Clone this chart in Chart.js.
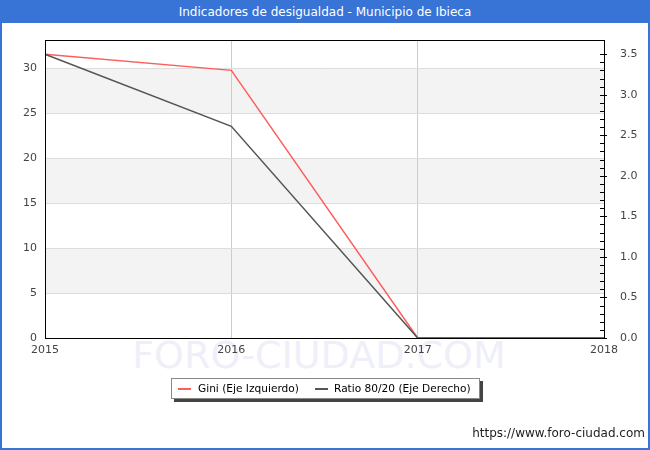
<!DOCTYPE html>
<html>
<head>
<meta charset="utf-8">
<script src="https://cdn.jsdelivr.net/npm/chart.js@4/dist/chart.umd.min.js"></script>
<style>
  body { margin: 0; background: #fff; }
  #wrap { position: relative; width: 650px; height: 450px; box-sizing: border-box; border: 2px solid #3873d6; background: #fff; font-family: "DejaVu Sans", sans-serif; overflow: hidden; }
  #titleBar { position: absolute; left: 0; top: 0; right: 0; height: 21px; background: #3873d6; color: #fff; font-size: 12px; line-height: 21px; text-align: center; }
  #mark { position: absolute; left: 0; width: 634px; top: 331px; text-align: center; font-family: "DejaVu Sans", sans-serif; font-size: 38px; color: #efeffa; }
  #chart { position: absolute; left: -2px; top: -2px; }
  #legend { position: absolute; left: 169px; top: 376px; width: 307px; height: 19px; border: 1px solid #888; background: #fff; box-shadow: 3px 3px 0 #444; font-size: 10.6px; line-height: 19px; white-space: nowrap; }
  #legend span { position: absolute; top: 0; }
  #legend span.sw { top: 9px; width: 13px; height: 2px; }
  #url { position: absolute; right: 3px; top: 424px; font-size: 12px; color: #222; }
</style>
</head>
<body>
<div id="wrap">
  <div id="titleBar">Indicadores de desigualdad - Municipio de Ibieca</div>
  <div id="mark">FORO-CIUDAD.COM</div>
  <canvas id="chart" width="650" height="450"></canvas>
  <div id="legend">
    <span class="sw" style="left:6px;background:#ff5c5c"></span><span style="left:26px">Gini (Eje Izquierdo)</span>
    <span class="sw" style="left:143px;background:#555"></span><span style="left:162px">Ratio 80/20 (Eje Derecho)</span>
  </div>
  <div id="url">https://www.foro-ciudad.com</div>
</div>
<script>
const years = ["2015", "2016", "2017", "2018"];
const gini = [31.6, 29.8, 0, 0];
const ratio = [3.5, 2.61, 0, 0];

const tickFont = { family: "DejaVu Sans", size: 11 };

// grey bands between every other 5-step of the left axis, plus the black frame
const plotDecor = {
    id: "plotDecor",
    beforeDraw(chart) {
        const { ctx, chartArea: a, scales } = chart;
        const y = scales.y;
        ctx.save();
        ctx.fillStyle = "#f3f3f3";
        for (let v = 5; v < y.max; v += 10) {
            const top = y.getPixelForValue(Math.min(v + 5, y.max));
            const bot = y.getPixelForValue(v);
            ctx.fillRect(a.left, top, a.right - a.left, bot - top);
        }
        ctx.restore();
    },
    afterDraw(chart) {
        const { ctx, chartArea: a, scales } = chart;
        ctx.save();
        ctx.strokeStyle = "#000";
        ctx.lineWidth = 1;
        ctx.strokeRect(Math.round(a.left) + 0.5, Math.round(a.top) + 0.5, Math.round(a.right - a.left), Math.round(a.bottom - a.top));
        // small inward ticks on the right axis
        const y1 = scales.y1;
        y1.ticks.forEach(t => {
            const py = Math.round(y1.getPixelForValue(t.value)) + 0.5;
            const major = t.label !== "";
            ctx.beginPath();
            ctx.moveTo(a.right - 4, py);
            ctx.lineTo(a.right + (major ? 3 : 0), py);
            ctx.stroke();
        });
        ctx.restore();
    }
};

new Chart(document.getElementById("chart"), {
    type: "line",
    data: {
        labels: years,
        datasets: [
            { label: "Ratio 80/20 (Eje Derecho)", data: ratio, yAxisID: "y1", borderColor: "#555555", borderWidth: 1.5, pointRadius: 0, tension: 0 },
            { label: "Gini (Eje Izquierdo)", data: gini, yAxisID: "y", borderColor: "#ff5c5c", borderWidth: 1.5, pointRadius: 0, tension: 0 }
        ]
    },
    options: {
        responsive: false,
        animation: false,
        layout: { padding: { top: 40, bottom: 92, left: 0, right: 0 } },
        plugins: { legend: { display: false }, tooltip: { enabled: false }, title: { display: false } },
        scales: {
            x: {
                offset: false,
                grid: { color: "#cccccc", drawTicks: false },
                border: { display: false },
                ticks: { font: tickFont, color: "#444", padding: 6, maxRotation: 0 },
                afterFit: s => { s.height = 20; }
            },
            y: {
                position: "left",
                min: 0,
                max: Math.max(...gini) * 1.05,
                grid: { color: "#dddddd", drawTicks: false },
                border: { display: false },
                ticks: { stepSize: 5, font: tickFont, color: "#444", padding: 8 },
                afterBuildTicks: s => { s.ticks = s.ticks.filter(t => t.value % 5 === 0); },
                afterFit: s => { s.width = 45; }
            },
            y1: {
                position: "right",
                min: 0,
                max: Math.max(...ratio) * 1.05,
                grid: { display: false, drawOnChartArea: false },
                border: { display: false },
                ticks: {
                    stepSize: 0.1,
                    maxTicksLimit: 100,
                    autoSkip: false,
                    font: tickFont,
                    color: "#444",
                    padding: 8,
                    callback: v => (Math.abs(v * 2 - Math.round(v * 2)) < 1e-6 ? v.toFixed(1) : "")
                },
                afterBuildTicks: s => { s.ticks = s.ticks.filter(t => Math.abs(t.value * 10 - Math.round(t.value * 10)) < 1e-6); },
                afterFit: s => { s.width = 46; }
            }
        }
    },
    plugins: [plotDecor]
});
</script>
</body>
</html>
